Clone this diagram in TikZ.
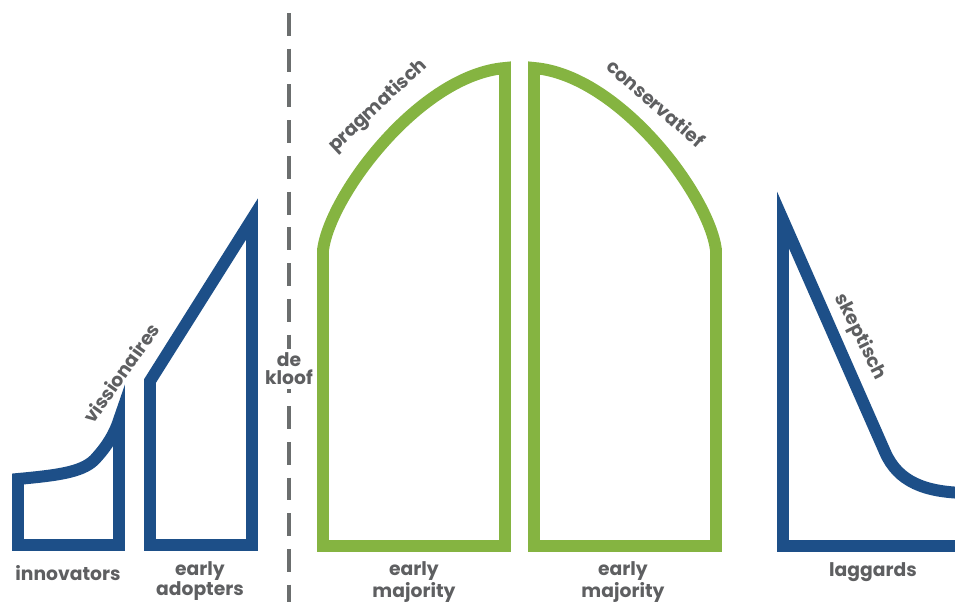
\documentclass[tikz,border=0pt]{standalone}
\usepackage{fontspec}
\setmainfont{Poppins}
\usetikzlibrary{positioning}
\definecolor{adoptblue}{HTML}{1D4F88}
\definecolor{adoptgreen}{HTML}{85B441}
\definecolor{labelgray}{HTML}{5E5F61}
\definecolor{gapgray}{HTML}{6B6E6E}
\tikzset{
	group/.style={
		line width=10.2pt,
		line join=miter
	},
	bluegroup/.style={group, draw=adoptblue},
	greengroup/.style={group, draw=adoptgreen},
	grouplabel/.style={
		text=labelgray,
		font=\bfseries\fontsize{16}{15.5}\selectfont,
		align=center,
		inner sep=0pt
	}
}

\begin{document}
\begin{tikzpicture}[x=0.03cm, y=-0.03cm]
	\clip (0,0) rectangle (955,602);
	% de kloof
	\coordinate (gaptop) at (289,13);
	\coordinate (gapbottom) at (289,602);
	\draw [gapgray, line width=3pt, dash pattern=on 19.5pt off 11pt] (gaptop) -- (gapbottom);
	\node [grouplabel, fill=white, inner sep=3pt] (kloof) at (289,369) {de\\kloof};
	% curves
	\draw [bluegroup] (119,545) -- (18,545) -- (18,479) .. controls (60,475) and (85,472) .. (97,457) .. controls (107,446) and (115,433) .. (119,420) -- cycle;
	\draw [bluegroup] (252,545) -- (150,545) -- (150,381) -- (252,219) -- cycle;
	\draw [greengroup] (505,546) -- (323,546) -- (323,250) .. controls (330,195) and (420,75) .. (505,68) -- cycle;
	\draw [greengroup] (534,546) -- (716,546) -- (716,250) .. controls (709,195) and (619,75) .. (534,68) -- cycle;
	\draw [bluegroup] (783,220) -- (783,546) -- (965,546) -- (965,493) .. controls (925,492) and (898,482) .. (885,452) -- cycle;
	% labels
	\node [grouplabel] (innovators) at (68,573) {innovators};
	\node [grouplabel] (adopters) at (200,581) {early\\adopters};
	\node [grouplabel] (majorityA) at (414,582) {early\\majority};
	\node [grouplabel] (majorityB) at (623,582) {early\\majority};
	\node [grouplabel] (laggards) at (873,572) {laggards};
	\node [grouplabel, rotate=54.5] (visionary) at (121,373) {vissionaires};
	\node [grouplabel, rotate=43] (pragmatic) at (378,106) {pragmatisch};
	\node [grouplabel, rotate=-41] (conservative) at (656,103) {conservatief};
	\node [grouplabel, rotate=-63.4] (skeptic) at (860,337) {skeptisch};
\end{tikzpicture}
\end{document}
